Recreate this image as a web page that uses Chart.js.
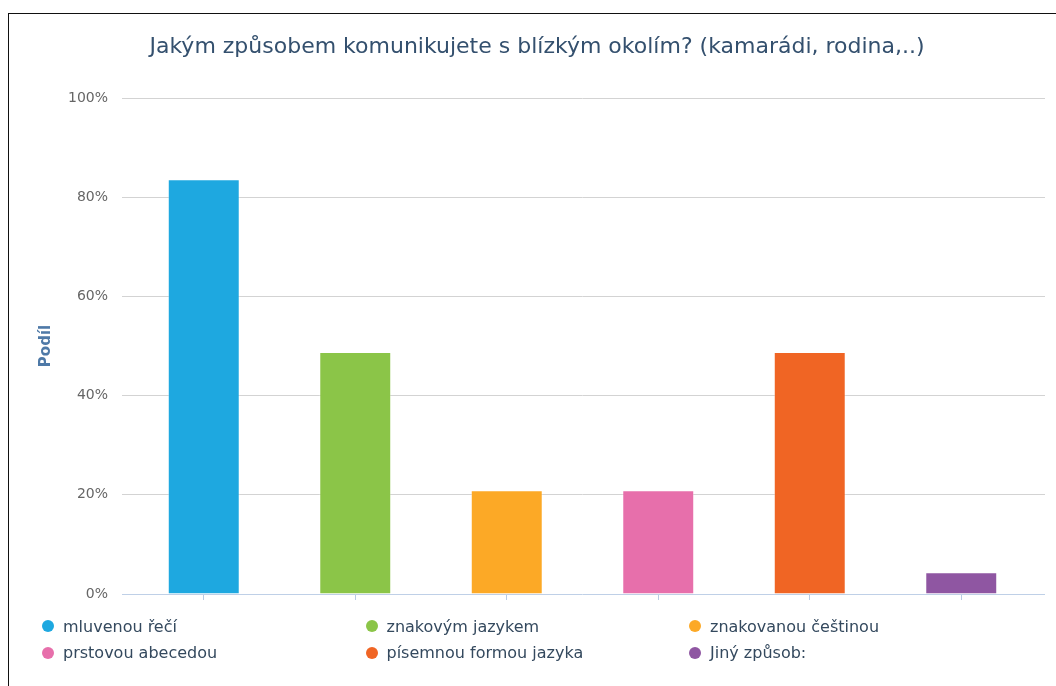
<!DOCTYPE html>
<html lang="cs">
<head>
<meta charset="UTF-8">
<title>Jakým způsobem komunikujete s blízkým okolím?</title>
<script src="https://cdn.jsdelivr.net/npm/chart.js"></script>
<style>
    body, html {
        margin: 0;
        width: 1056px;
        height: 686px;
        overflow: hidden;
        background: #fff;
    }
    .frame {
        position: absolute;
        left: 8px;
        top: 13px;
        width: 1100px;
        height: 700px;
        border-left: 1px solid #111;
        border-top: 1px solid #111;
    }
    #chart {
        position: absolute;
        left: 9px;
        top: 14px;
    }
    #legend {
        position: absolute;
        left: 42px;
        top: 613px;
        display: grid;
        grid-template-columns: 323.5px 323.5px 323.5px;
        grid-auto-rows: 26.5px;
        font-family: "DejaVu Sans", sans-serif;
        font-size: 16px;
        color: #34495e;
    }
    #legend .item {
        display: flex;
        align-items: center;
        white-space: nowrap;
    }
    #legend .dot {
        width: 12px;
        height: 12px;
        border-radius: 50%;
        margin-right: 9px;
        flex: none;
    }
</style>
</head>
<body>
<div class="frame"></div>
<canvas id="chart" width="1056" height="672"></canvas>
<div id="legend"></div>
<script>
    const categories = ['mluvenou řečí', 'znakovým jazykem', 'znakovanou češtinou', 'prstovou abecedou', 'písemnou formou jazyka', 'Jiný způsob:'];
    const shares = [83.6, 48.8, 20.9, 20.9, 48.8, 4.4];
    const colors = ['#1ea8e0', '#8bc548', '#fca926', '#e76fab', '#f06524', '#8f56a2'];
    const yTicks = [0, 20, 40, 60, 80, 100];

    // legenda ve třech sloupcích
    const legend = document.getElementById('legend');
    categories.forEach((name, i) => {
        const item = document.createElement('div');
        item.className = 'item';
        const dot = document.createElement('span');
        dot.className = 'dot';
        dot.style.background = colors[i];
        const label = document.createElement('span');
        label.textContent = name;
        item.appendChild(dot);
        item.appendChild(label);
        legend.appendChild(item);
    });

    const gridColor = ctx => (ctx.tick && ctx.tick.value === 0) ? '#bfd0e7' : '#d3d3d3';

    new Chart(document.getElementById('chart').getContext('2d'), {
        type: 'bar',
        data: {
            labels: categories,
            datasets: [{
                label: 'Podíl',
                data: shares,
                backgroundColor: colors,
                borderColor: 'rgba(255,255,255,0.35)',
                borderWidth: 1,
                barPercentage: 0.475,
                categoryPercentage: 1
            }]
        },
        options: {
            responsive: false,
            animation: false,
            layout: { padding: 0 },
            plugins: {
                legend: { display: false },
                tooltip: { enabled: false },
                title: {
                    display: true,
                    text: 'Jakým způsobem komunikujete s blízkým okolím? (kamarádi, rodina,..)',
                    color: '#34506e',
                    font: { family: 'DejaVu Sans', size: 22, weight: 'normal' },
                    padding: { top: 20, bottom: 37.6 }
                }
            },
            scales: {
                x: {
                    type: 'category',
                    afterFit: s => { s.height = 92; },
                    ticks: { display: false },
                    border: { display: false },
                    grid: {
                        offset: false,
                        drawOnChartArea: false,
                        drawTicks: true,
                        tickLength: 6,
                        color: '#b8cbe4'
                    }
                },
                y: {
                    min: 0,
                    max: 100,
                    afterFit: s => { s.width = 119; },
                    afterBuildTicks: s => { s.ticks = yTicks.map(v => ({ value: v })); },
                    border: { display: false },
                    grid: { color: gridColor, tickColor: gridColor, tickLength: 6 },
                    ticks: {
                        padding: 14,
                        color: '#666',
                        font: { family: 'DejaVu Sans', size: 14 },
                        callback: v => v + '%'
                    },
                    title: {
                        display: true,
                        text: 'Podíl',
                        color: '#4e79a7',
                        font: { family: 'DejaVu Sans', size: 15, weight: 'bold' },
                        padding: { top: 28, bottom: 0 }
                    }
                },
                y2: {
                    position: 'right',
                    min: 0,
                    max: 100,
                    afterFit: s => { s.width = 28; },
                    afterBuildTicks: s => { s.ticks = yTicks.map(v => ({ value: v })); },
                    border: { display: false },
                    ticks: { display: false },
                    grid: { drawOnChartArea: false, color: gridColor, tickColor: gridColor, tickLength: 8 }
                }
            }
        }
    });
</script>
</body>
</html>
